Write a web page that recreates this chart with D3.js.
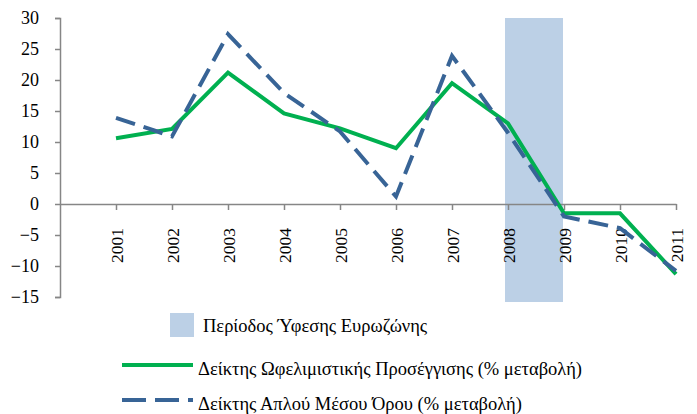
<!DOCTYPE html>
<html>
<head>
<meta charset="utf-8">
<script src="https://cdn.jsdelivr.net/npm/d3@7"></script>
<style>
  body { margin: 0; background: #fff; }
  text { font-family: "Liberation Serif", "DejaVu Serif", serif; fill: #000; }
</style>
</head>
<body>
<div id="chart"></div>
<script>
var width = 697;
var height = 414;

// data
var years = [2001, 2002, 2003, 2004, 2005, 2006, 2007, 2008, 2009, 2010, 2011];
var utilityIndex = [10.6, 12.1, 21.2, 14.6, 12.2, 9.0, 19.5, 13.0, -1.5, -1.5, -11.3];
var simpleAvgIndex = [13.9, 10.9, 27.4, 17.9, 11.7, 1.2, 23.9, 11.5, -2.0, -3.9, -10.8];
var yTicks = [-15, -10, -5, 0, 5, 10, 15, 20, 25, 30];
var recession = [2008, 2009];
var legendLabels = [
  "Περίοδος Ύφεσης Ευρωζώνης",
  "Δείκτης Ωφελιμιστικής Προσέγγισης (% μεταβολή)",
  "Δείκτης Απλού Μέσου Όρου (% μεταβολή)"
];

var green = "#00b050";
var blue = "#386496";
var shade = "#bcd0e6";
var axisGray = "#868686";

var svg = d3.select('#chart')
  .append('svg')
  .attr('width', width)
  .attr('height', height);

var x = d3.scaleLinear().domain([2000, 2011]).range([60, 676]);
var y = d3.scaleLinear().domain([-15, 30]).range([297, 18]);

// recession band
svg.append("rect")
  .attr("x", x(recession[0]) - 3)
  .attr("width", x(recession[1]) - x(recession[0]) + 2)
  .attr("y", y(30))
  .attr("height", y(-15) - y(30) + 5)
  .attr("fill", shade);

// y axis
var yAxis = d3.axisLeft(y).tickValues(yTicks).tickSize(5).tickPadding(16);
var yg = svg.append("g").attr("transform", "translate(60,0)").call(yAxis);
yg.attr("font-size", null).attr("font-family", null);
yg.select(".domain").attr("stroke", axisGray).attr("stroke-width", 1.5);
yg.selectAll(".tick line").attr("stroke", axisGray).attr("stroke-width", 1.5);
yg.selectAll(".tick text").style("font-size", "18px")
  .style("font-family", "Liberation Serif").attr("fill", "#000");

// x axis at zero
var xAxis = d3.axisBottom(x).tickValues(years).tickSize(6).tickSizeOuter(0)
  .tickFormat(d3.format("d"));
var xg = svg.append("g").attr("transform", "translate(0," + y(0) + ")").call(xAxis);
xg.attr("font-size", null).attr("font-family", null);
xg.select(".domain").attr("stroke", axisGray).attr("stroke-width", 1.5);
xg.selectAll(".tick line").attr("stroke", axisGray).attr("stroke-width", 1.5);
xg.selectAll(".tick text")
  .style("font-size", "17.5px")
  .style("font-family", "Liberation Serif")
  .attr("fill", "#000")
  .attr("transform", "rotate(-90)")
  .attr("text-anchor", "end")
  .attr("x", -24)
  .attr("y", 0)
  .attr("dy", "0.35em");

var line = d3.line()
  .x(function(d, i) { return x(years[i]); })
  .y(function(d) { return y(d); });

svg.append("path")
  .datum(utilityIndex)
  .attr("fill", "none")
  .attr("stroke", green)
  .attr("stroke-width", 4)
  .attr("stroke-linejoin", "miter")
  .attr("d", line);

svg.append("path")
  .datum(simpleAvgIndex)
  .attr("fill", "none")
  .attr("stroke", blue)
  .attr("stroke-width", 4)
  .attr("stroke-dasharray", "20,9")
  .attr("d", line);

// legend
var lg = svg.append("g").style("font-size", "18.5px");
lg.append("rect")
  .attr("x", 170).attr("y", 313).attr("width", 24).attr("height", 24)
  .attr("fill", shade);
lg.append("text").attr("x", 203).attr("y", 332).text(legendLabels[0]);

lg.append("line")
  .attr("x1", 122).attr("x2", 193).attr("y1", 365).attr("y2", 365)
  .attr("stroke", green).attr("stroke-width", 4);
lg.append("text").attr("x", 198).attr("y", 375).text(legendLabels[1]);

lg.append("line")
  .attr("x1", 122).attr("x2", 193).attr("y1", 400).attr("y2", 400)
  .attr("stroke", blue).attr("stroke-width", 4)
  .attr("stroke-dasharray", "24,9");
lg.append("text").attr("x", 198).attr("y", 410).text(legendLabels[2]);
</script>
</body>
</html>
